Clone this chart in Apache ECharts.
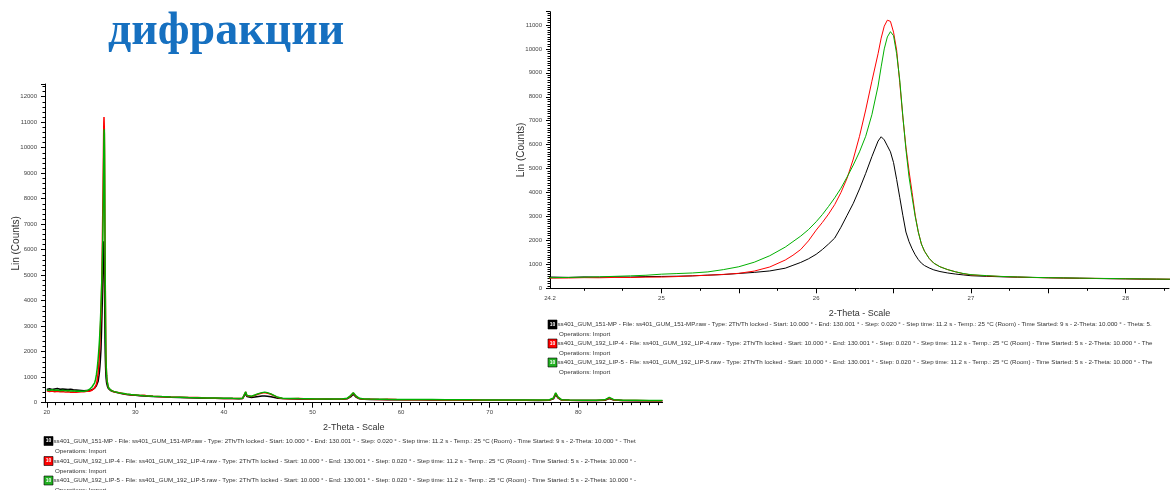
<!DOCTYPE html>
<html>
<head>
<meta charset="utf-8">
<script src="https://cdn.jsdelivr.net/npm/echarts@6/dist/echarts.min.js"></script>
<style>
html,body{margin:0;padding:0;background:#fff;}
#chart{width:1171px;height:490px;}
</style>
</head>
<body>
<div id="chart"></div>
<script>
// ---------- DATA ----------
const sampleNames = ['ss401_GUM_151-MP', 'ss401_GUM_192_LIP-4', 'ss401_GUM_192_LIP-5'];
const startedTimes = ['9 s', '5 s', '5 s'];
const seriesColors = ['#000000', '#ff0000', '#00b000'];

// 2-Theta region before the main peak
const twoThetaLow = [20.0, 20.3, 20.6, 20.9, 21.2, 21.5, 21.8, 22.1, 22.4, 22.7, 23.0, 23.3, 23.6, 23.9, 24.2];
const blackLow = [520, 545, 515, 535, 555, 525, 540, 530, 515, 530, 510, 500, 490, 480, 470];
const redLow   = [465, 440, 455, 430, 450, 425, 440, 415, 430, 410, 420, 405, 415, 425, 430];
const greenLow = [500, 480, 505, 475, 495, 470, 490, 465, 480, 455, 470, 450, 460, 445, 445];

// main peak region (also shown zoomed on the right)
const twoThetaPeak = [24.3, 24.4, 24.5, 24.6, 24.7, 24.8, 24.9, 25.0, 25.1, 25.2, 25.3, 25.4, 25.5, 25.6, 25.7, 25.8,
  25.85, 25.9, 25.95, 26.0,
  26.04, 26.08, 26.12, 26.16, 26.2, 26.24, 26.28, 26.32, 26.36, 26.40,
  26.42, 26.44, 26.46, 26.48, 26.50, 26.52, 26.54, 26.56, 26.58, 26.60, 26.62, 26.64, 26.66, 26.68, 26.70,
  26.73, 26.76, 26.80, 26.85, 26.90, 26.95, 27.0,
  27.1, 27.2, 27.3, 27.4, 27.5, 27.6, 27.7, 27.8, 27.9, 28.0, 28.1, 28.2, 28.3];
const blackPeak = [470, 455, 475, 465, 480, 470, 490, 495, 505, 520, 550, 575, 620, 665, 725, 840,
  960, 1080, 1230, 1420,
  1620, 1850, 2100, 2550, 3050, 3550, 4150, 4800, 5500, 6150,
  6330, 6200, 5950, 5700, 5250, 4550, 3800, 3050, 2350, 1950, 1650, 1400, 1200, 1050, 950,
  850, 770, 700, 640, 595, 560, 525,
  500, 480, 465, 455, 440, 430, 420, 410, 400, 395, 385, 380, 370];
const redPeak = [425, 430, 445, 440, 455, 450, 465, 470, 490, 520, 545, 580, 625, 720, 890, 1180,
  1380, 1620, 1980, 2430,
  2750, 3100, 3500, 4000, 4600, 5400, 6350, 7450, 8650, 9800,
  10450, 10950, 11200, 11150, 10700, 9950, 8600, 7150, 5900, 4900, 4000, 3050, 2350, 1850, 1550,
  1250, 1050, 900, 780, 690, 610, 560,
  520, 490, 470, 450, 440, 430, 420, 415, 405, 400, 390, 385, 380];
const greenPeak = [445, 455, 465, 480, 500, 520, 545, 590, 615, 640, 685, 780, 900, 1090, 1360, 1720,
  1950, 2180, 2450, 2780,
  3080, 3420, 3780, 4180, 4650, 5150, 5700, 6350, 7250, 8450,
  9250, 10000, 10500, 10720, 10550, 9800, 8700, 7200, 5800, 4650, 3800, 3000, 2350, 1850, 1550,
  1250, 1050, 900, 780, 690, 620, 570,
  530, 495, 475, 455, 445, 435, 425, 415, 410, 400, 395, 385, 380];

// region after the main peak
const twoThetaHigh = [28.4, 28.7, 29.0, 29.5, 30.0, 30.5, 31, 31.5, 32, 33, 34, 35, 36, 37, 38, 39, 40, 41, 41.7, 42.1,
  42.3, 42.45, 42.6, 42.8, 43.1, 43.5, 43.9, 44.3, 44.6, 44.9, 45.3, 45.7, 46.1, 46.6, 47.5, 48.5, 49.5, 50.5, 51.5, 52.5,
  53.3, 53.9, 54.3, 54.6, 54.9, 55.3, 55.8, 56.5, 57.5, 58.5, 59.5, 60.5, 62, 63.5, 65, 66.5, 68, 69.5, 71, 72.5,
  74, 75.5, 76.7, 77.2, 77.45, 77.7, 78.1, 79, 80.5, 82, 83.0, 83.5, 84.0, 85, 86.5, 88, 89.5];
const blackHigh = [360, 340, 325, 305, 290, 275, 265, 255, 245, 232, 218, 208, 197, 188, 178, 172, 166, 160, 157, 160,
  190, 360, 240, 200, 205, 225, 245, 260, 262, 255, 235, 205, 178, 160, 152, 146, 141, 138, 135, 132,
  134, 150, 230, 330, 220, 150, 132, 127, 123, 120, 117, 114, 111, 108, 105, 103, 100, 98, 96, 94,
  92, 90, 95, 150, 320, 190, 105, 92, 88, 86, 98, 165, 105, 84, 81, 78, 75];
const redHigh = [370, 350, 330, 310, 300, 280, 290, 258, 250, 235, 222, 215, 200, 205, 180, 178, 168, 165, 160, 165,
  210, 420, 270, 225, 240, 290, 340, 380, 395, 375, 330, 265, 200, 165, 158, 160, 145, 140, 150, 135,
  138, 160, 260, 380, 250, 160, 140, 135, 128, 140, 122, 118, 115, 120, 108, 106, 104, 100, 98, 96,
  95, 92, 98, 170, 370, 210, 110, 95, 90, 88, 102, 185, 110, 86, 84, 80, 77];
const greenHigh = [385, 360, 340, 320, 305, 288, 275, 265, 255, 240, 228, 218, 207, 198, 188, 182, 176, 170, 167, 172,
  220, 430, 280, 235, 255, 300, 355, 395, 415, 395, 345, 280, 210, 178, 168, 160, 155, 150, 147, 145,
  148, 170, 280, 395, 265, 170, 148, 142, 137, 133, 130, 127, 124, 121, 118, 115, 112, 110, 108, 106,
  104, 102, 108, 185, 390, 225, 120, 104, 100, 98, 112, 210, 120, 96, 92, 88, 84];

// tick labels
const leftXLabels = [20, 30, 40, 50, 60, 70, 80];
const rightXLabels = ['24.2', '25', '26', '27', '28'];
const rightXLabelValues = [24.28, 25, 26, 27, 28];
const axisNameX = '2-Theta - Scale';
const axisNameY = 'Lin (Counts)';
const titleText = 'дифракции';

// ---------- BUILD ----------
function pairs(xs, ys) { return xs.map((x, i) => [x, ys[i]]); }
const blackAll = [].concat(pairs(twoThetaLow, blackLow), pairs(twoThetaPeak, blackPeak), pairs(twoThetaHigh, blackHigh));
const redAll = [].concat(pairs(twoThetaLow, redLow), pairs(twoThetaPeak, redPeak), pairs(twoThetaHigh, redHigh));
const greenAll = [].concat(pairs(twoThetaLow, greenLow), pairs(twoThetaPeak, greenPeak), pairs(twoThetaHigh, greenHigh));
const allData = [blackAll, redAll, greenAll];

const leftMinor = []; for (let v = 20; v <= 89; v++) leftMinor.push(v);
const rightMajorTicks = [25, 25.5, 26, 26.5, 27, 27.5, 28];
const rightMinor = []; for (let v = 24.5; v <= 28.26; v += 0.25) rightMinor.push(+v.toFixed(2));

const FONT = '"Liberation Sans", Arial, sans-serif';
const axisColor = '#000';
const labelStyle = {fontSize: 6, color: '#444', fontFamily: FONT};

function xAxisMain(grid, min, max, labels, ticks, fmt, nameGap) {
  return {
    gridIndex: grid, type: 'value', min: min, max: max, position: 'bottom',
    axisLine: {show: true, lineStyle: {color: axisColor, width: 1}},
    axisTick: {show: true, customValues: ticks, length: 5, lineStyle: {color: axisColor}},
    axisLabel: Object.assign({show: true, customValues: labels, margin: 7, formatter: fmt, hideOverlap: false}, labelStyle),
    splitLine: {show: false},
    name: axisNameX, nameLocation: 'middle', nameGap: nameGap, nameMoveOverlap: false,
    nameTextStyle: {fontSize: 9, color: '#333', fontFamily: FONT}
  };
}
function xAxisMinor(grid, min, max, ticks) {
  return {
    gridIndex: grid, type: 'value', min: min, max: max, position: 'bottom',
    axisLine: {show: false},
    axisTick: {show: true, customValues: ticks, length: 2.5, lineStyle: {color: axisColor}},
    axisLabel: {show: false}, splitLine: {show: false}
  };
}
function yAxis(grid, max, nameGap, split) {
  return {
    gridIndex: grid, type: 'value', min: 0, max: max, interval: 1000,
    axisLine: {show: true, lineStyle: {color: axisColor, width: 1}},
    axisTick: {show: true, length: 4, lineStyle: {color: axisColor}},
    minorTick: {show: true, splitNumber: split, length: 2.5, lineStyle: {color: axisColor}},
    axisLabel: Object.assign({margin: 8, showMaxLabel: false, formatter: v => String(v)}, labelStyle),
    splitLine: {show: false}, minorSplitLine: {show: false},
    name: axisNameY, nameLocation: 'middle', nameRotate: 90, nameGap: nameGap, nameMoveOverlap: false,
    nameTextStyle: {fontSize: 10, color: '#333', fontFamily: FONT}
  };
}

const series = [];
allData.forEach((d, i) => {
  series.push({type: 'line', name: sampleNames[i], xAxisIndex: 0, yAxisIndex: 0, data: d,
    symbol: 'none', showSymbol: false, silent: true, z: 2 + i,
    lineStyle: {color: seriesColors[i], width: 1.5}, itemStyle: {color: seriesColors[i]}});
  series.push({type: 'line', name: sampleNames[i] + ' zoom', xAxisIndex: 2, yAxisIndex: 1, data: d,
    symbol: 'none', showSymbol: false, silent: true, z: 2 + i, clip: true,
    lineStyle: {color: seriesColors[i], width: 1}, itemStyle: {color: seriesColors[i]}});
});

function legendText(i) {
  return sampleNames[i] + ' - File: ' + sampleNames[i] + '.raw - Type: 2Th/Th locked - Start: 10.000 ° - End: 130.001 ° - Step: 0.020 ° - Step time: 11.2 s - Temp.: 25 °C (Room) - Time Started: ' + startedTimes[i] + ' - 2-Theta: 10.000 ° - Theta: 5.000 ° - Chi: 0.00 ° - Phi: 0.00 ° - X: 0.0 mm';
}
function legendBlock(x0, rows, width) {
  const els = [];
  for (let i = 0; i < 3; i++) {
    const yRow = rows[i * 2], yOps = rows[i * 2 + 1];
    els.push({type: 'rect', shape: {x: x0, y: yRow - 4.5, width: 9, height: 9},
      style: {fill: seriesColors[i] === '#00b000' ? '#22b022' : seriesColors[i], stroke: '#000', lineWidth: 0.6}, silent: true});
    els.push({type: 'text', x: x0 + 4.5, y: yRow, silent: true,
      style: {text: '10', fill: '#fff', font: 'bold 5px ' + FONT, align: 'center', verticalAlign: 'middle'}});
    els.push({type: 'text', x: x0 + 9.5, y: yRow, silent: true,
      style: {text: legendText(i), fill: '#333', font: '6.2px ' + FONT, verticalAlign: 'middle',
        width: width, overflow: 'truncate', ellipsis: ''}});
    els.push({type: 'text', x: x0 + 11, y: yOps, silent: true,
      style: {text: 'Operations: Import', fill: '#333', font: '6.2px ' + FONT, verticalAlign: 'middle'}});
  }
  return els;
}

const option = {
  animation: false,
  backgroundColor: '#fff',
  grid: [
    {left: 45, top: 84, width: 617.6, height: 318.7, outerBoundsMode: 'none', containLabel: false},
    {left: 550, top: 11.7, width: 619, height: 276.6, outerBoundsMode: 'none', containLabel: false}
  ],
  xAxis: [
    xAxisMain(0, 19.8, 89.52, leftXLabels, leftXLabels, v => String(v), 20),
    xAxisMinor(0, 19.8, 89.52, leftMinor),
    xAxisMain(1, 24.28, 28.28, rightXLabelValues, rightMajorTicks, v => rightXLabels[rightXLabelValues.indexOf(v)] || String(v), 21),
    xAxisMinor(1, 24.28, 28.28, rightMinor)
  ],
  yAxis: [
    yAxis(0, 12500, 24, 5),
    yAxis(1, 11554, 24, 10)
  ],
  series: series,
  graphic: [
    {type: 'text', x: 108, y: 32.5, silent: true,
      style: {text: titleText, fill: '#1670c0', font: 'bold 46px "Liberation Serif", serif', verticalAlign: 'middle'}}
  ].concat(legendBlock(44, [441, 451, 461, 471, 480.5, 490], 603))
   .concat(legendBlock(548, [324.5, 334, 343.5, 353, 362.5, 372], 615))
};

const chart = echarts.init(document.getElementById('chart'), null, {renderer: 'canvas'});
chart.setOption(option);
</script>
</body>
</html>
